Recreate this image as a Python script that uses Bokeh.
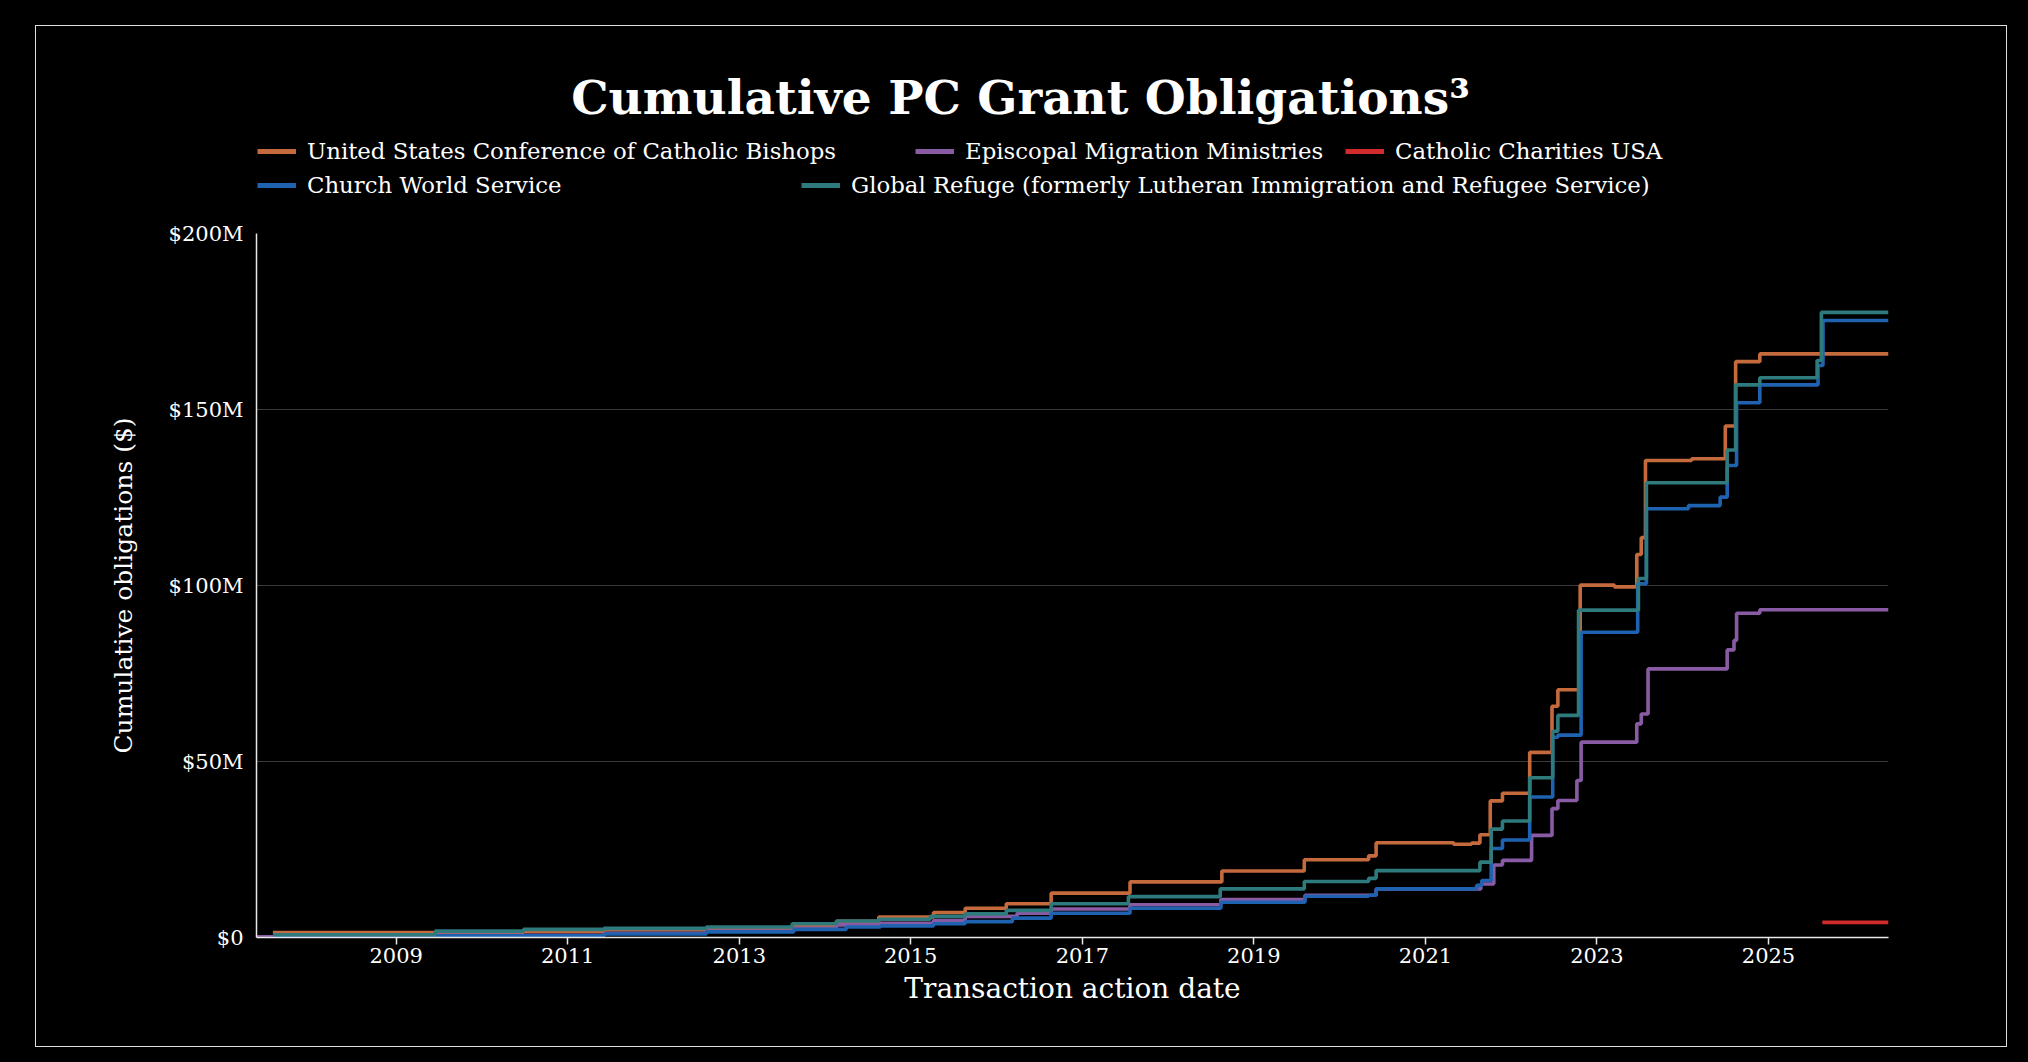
import pandas as pd
from bokeh.plotting import figure
from bokeh.layouts import column
from bokeh.models import (Range1d, FixedTicker, DatetimeTickFormatter, Legend,
                          LegendItem, Label)
from bokeh.embed import file_html
from bokeh.resources import INLINE

# ---------------- data (values in $ millions) ----------------
START_DATE = "2007-05-17"
END_DATE = "2026-05-27"

usccb_dates = ["2007-07-26", "2010-06-27", "2011-06-05", "2013-04-01", "2013-08-14",
               "2014-02-19", "2014-08-18", "2015-04-08", "2015-08-21", "2016-02-12",
               "2016-08-21", "2017-07-23", "2018-08-18", "2019-08-04", "2020-05-04",
               "2020-06-05", "2021-05-01", "2021-07-16", "2021-08-21", "2021-10-04",
               "2021-11-25", "2022-03-21", "2022-06-24", "2022-07-19", "2022-10-22",
               "2023-03-17", "2023-06-20", "2023-07-09", "2023-07-27", "2024-02-09",
               "2024-07-01", "2024-08-14", "2024-11-25"]
usccb_vals = [1.4, 1.7, 2.2, 2.6, 3.3,
              4.6, 5.8, 7.1, 8.3, 9.6,
              12.6, 15.8, 18.9, 22.1, 23.2,
              26.9, 26.5, 26.8, 29.2, 38.8,
              41.0, 52.6, 65.7, 70.4, 100.1,
              99.6, 108.8, 113.6, 135.5, 136.0,
              145.3, 163.6, 165.8]

emm_dates = ["2007-05-17", "2009-06-16", "2011-06-05", "2012-08-14", "2013-08-14",
             "2014-02-19", "2014-08-18", "2015-04-08", "2015-08-21", "2016-03-29",
             "2016-08-21", "2017-07-23", "2018-08-14", "2019-08-07", "2020-06-05",
             "2021-08-25", "2021-10-19", "2021-11-25", "2022-03-29", "2022-06-24",
             "2022-07-19", "2022-10-08", "2022-10-26", "2023-06-20", "2023-07-09",
             "2023-08-07", "2024-07-09", "2024-08-07", "2024-08-18", "2024-11-25"]
emm_vals = [0.2, 0.6, 1.2, 1.8, 2.6,
            3.6, 4.0, 4.8, 6.0, 6.9,
            8.1, 9.3, 10.8, 12.0, 13.8,
            15.2, 20.6, 21.9, 29.0, 36.6,
            38.9, 44.6, 55.5, 60.7, 63.5,
            76.3, 81.7, 84.4, 92.1, 93.1]

ccusa_dates = ["2025-08-18"]
ccusa_vals = [4.3]

cws_dates = ["2007-07-26", "2009-06-16", "2011-06-05", "2012-08-14", "2013-08-21",
             "2014-04-01", "2014-08-25", "2015-04-08", "2015-08-21", "2016-03-09",
             "2016-08-21", "2017-07-23", "2018-08-14", "2019-08-07", "2020-05-04",
             "2020-06-05", "2021-08-07", "2021-08-29", "2021-10-08", "2021-11-25",
             "2022-03-21", "2022-06-27", "2022-07-19", "2022-10-26", "2023-06-24",
             "2023-07-31", "2024-01-26", "2024-06-09", "2024-07-09", "2024-08-18",
             "2024-11-25", "2025-07-31", "2025-08-21"]
cws_vals = [0.3, 0.5, 1.0, 1.6, 2.3,
            3.0, 3.3, 3.9, 4.5, 5.5,
            6.9, 8.3, 10.0, 11.7, 12.0,
            13.8, 14.8, 16.2, 25.3, 27.7,
            39.9, 56.9, 57.5, 86.7, 100.5,
            121.8, 122.7, 125.1, 134.1, 151.9,
            157.0, 162.5, 175.3]

gr_dates = ["2007-07-26", "2009-06-16", "2010-06-27", "2011-06-05", "2012-08-14",
            "2013-08-14", "2014-02-19", "2014-08-18", "2015-03-25", "2015-08-21",
            "2016-02-12", "2016-08-21", "2017-07-16", "2018-08-11", "2019-08-04",
            "2020-05-04", "2020-06-05", "2021-08-21", "2021-10-08", "2021-11-25",
            "2022-03-21", "2022-06-27", "2022-07-19", "2022-10-15", "2023-06-27",
            "2023-07-31", "2024-07-09", "2024-08-14", "2024-11-25", "2025-07-27",
            "2025-08-14"]
gr_vals = [0.8, 1.8, 2.3, 2.6, 3.0,
           3.9, 4.7, 5.2, 6.0, 6.7,
           7.7, 9.6, 11.6, 13.8, 15.9,
           16.8, 19.0, 21.4, 30.8, 33.1,
           45.4, 58.6, 63.1, 93.0, 102.0,
           129.2, 138.5, 157.0, 159.0, 163.9,
           177.6]

series_names = ["United States Conference of Catholic Bishops",
                "Episcopal Migration Ministries",
                "Catholic Charities USA",
                "Church World Service",
                "Global Refuge (formerly Lutheran Immigration and Refugee Service)"]
series_colors = ["#C46A3D", "#8A5BA5", "#D22B2B", "#1F63B0", "#2F7A7C"]
series_dates = [usccb_dates, emm_dates, ccusa_dates, cws_dates, gr_dates]
series_vals = [usccb_vals, emm_vals, ccusa_vals, cws_vals, gr_vals]

x_tick_labels = ["2009", "2011", "2013", "2015", "2017", "2019", "2021", "2023", "2025"]
y_ticks = [0, 50, 100, 150, 200]
y_tick_labels = ["$0", "$50M", "$100M", "$150M", "$200M"]

TITLE = "Cumulative PC Grant Obligations\u00b3"
X_LABEL = "Transaction action date"
Y_LABEL = "Cumulative obligations ($)"

FONT = "DejaVu Serif"
FRAME_W = 1632
BORDER_L, BORDER_R = 220, 118

# ---------------- header (title + legend rows) ----------------
HEADER_H = 187
header = figure(frame_width=FRAME_W, frame_height=HEADER_H,
                x_range=Range1d(0, 1), y_range=Range1d(0, 1),
                output_backend="svg", toolbar_location=None,
                min_border_left=BORDER_L, min_border_right=BORDER_R,
                min_border_top=0, min_border_bottom=0,
                x_axis_location=None, y_axis_location=None,
                background_fill_color="black", border_fill_color="black",
                outline_line_color=None)
header.grid.visible = False

title = Label(x=764, y=116, x_units="screen", y_units="screen", text=TITLE,
              text_align="center", text_baseline="alphabetic",
              text_font=FONT, text_font_size="47px", text_font_style="bold",
              text_color="white")
header.add_layout(title)

legend_pos = [(1, 49), (659, 49), (1089, 49), (1, 15), (545, 15)]
nan = float("nan")
for name, color, pos in zip(series_names, series_colors, legend_pos):
    # legend key only: a line with no drawable point
    swatch = header.line(x=[nan], y=[nan], line_color=color, line_width=5)
    lg = Legend(items=[LegendItem(label=name, renderers=[swatch])], location=pos,
                orientation="horizontal", padding=0, margin=0, spacing=0,
                glyph_width=39, glyph_height=26, label_height=26, label_standoff=11,
                label_text_font=FONT, label_text_font_size="22.8px",
                label_text_color="white", label_text_baseline="middle",
                background_fill_alpha=0, border_line_alpha=0,
                inactive_fill_alpha=0)
    header.add_layout(lg)

# ---------------- main chart ----------------
p = figure(frame_width=FRAME_W, frame_height=704,
           x_axis_type="datetime",
           x_range=Range1d(pd.Timestamp(START_DATE), pd.Timestamp(END_DATE)),
           y_range=Range1d(0, 200),
           output_backend="svg", toolbar_location=None,
           min_border_left=BORDER_L, min_border_right=BORDER_R,
           min_border_top=20, min_border_bottom=109,
           background_fill_color="black", border_fill_color="black",
           outline_line_color=None)

for name, color, d, v in zip(series_names, series_colors, series_dates, series_vals):
    xs = list(pd.to_datetime(d)) + [pd.Timestamp(END_DATE)]
    ys = list(v) + [v[-1]]
    p.step(x=xs, y=ys, mode="after", line_color=color, line_width=3.6)

x_ticks = [pd.Timestamp(f"{t}-01-01").value / 1e6 for t in x_tick_labels]
p.xaxis.ticker = FixedTicker(ticks=x_ticks)
p.xaxis.formatter = DatetimeTickFormatter(
    microseconds="%Y", milliseconds="%Y", seconds="%Y", minsec="%Y", minutes="%Y",
    hourmin="%Y", hours="%Y", days="%Y", months="%Y", years="%Y")
p.xaxis.major_label_overrides = {t: lab for t, lab in zip(x_ticks, x_tick_labels)}
p.yaxis.ticker = FixedTicker(ticks=y_ticks)
p.yaxis.major_label_overrides = {t: lab for t, lab in zip(y_ticks, y_tick_labels)}

for ax in (p.xaxis[0], p.yaxis[0]):
    ax.axis_line_color = "#e8e8e8"
    ax.axis_line_width = 1.5
    ax.minor_tick_line_color = None
    ax.major_label_text_font = FONT
    ax.major_label_text_font_size = "21px"
    ax.major_label_text_color = "white"
    ax.axis_label_text_font = FONT
    ax.axis_label_text_font_style = "normal"
    ax.axis_label_text_color = "white"

p.xaxis.axis_label = X_LABEL
p.xaxis.axis_label_text_font_size = "28px"
p.xaxis.major_tick_line_color = "#e8e8e8"
p.xaxis.major_tick_line_width = 1.5
p.xaxis.major_tick_out = 7
p.xaxis.major_tick_in = 0
p.xaxis.major_label_standoff = 3
p.xaxis.axis_label_standoff = 6

p.yaxis.axis_label = Y_LABEL
p.yaxis.axis_label_text_font_size = "25px"
p.yaxis.major_tick_line_color = None
p.yaxis.major_tick_out = 0
p.yaxis.major_tick_in = 0
p.yaxis.major_label_standoff = 13
p.yaxis.axis_label_standoff = 28

p.xgrid.visible = False
p.ygrid.ticker = FixedTicker(ticks=y_ticks)
p.ygrid.grid_line_color = "#3a3a3a"
p.ygrid.grid_line_width = 1

layout = column(header, p, spacing=0)
layout.margin = (26, 0, 0, 36)
layout.styles = {"outline": "1.5px solid #dedede", "background-color": "#000000"}

html = file_html(layout, INLINE)
html = html.replace("<head>", "<head><style>html, body {background-color: #000000;}</style>", 1)
open("out.html", "w").write(html)
